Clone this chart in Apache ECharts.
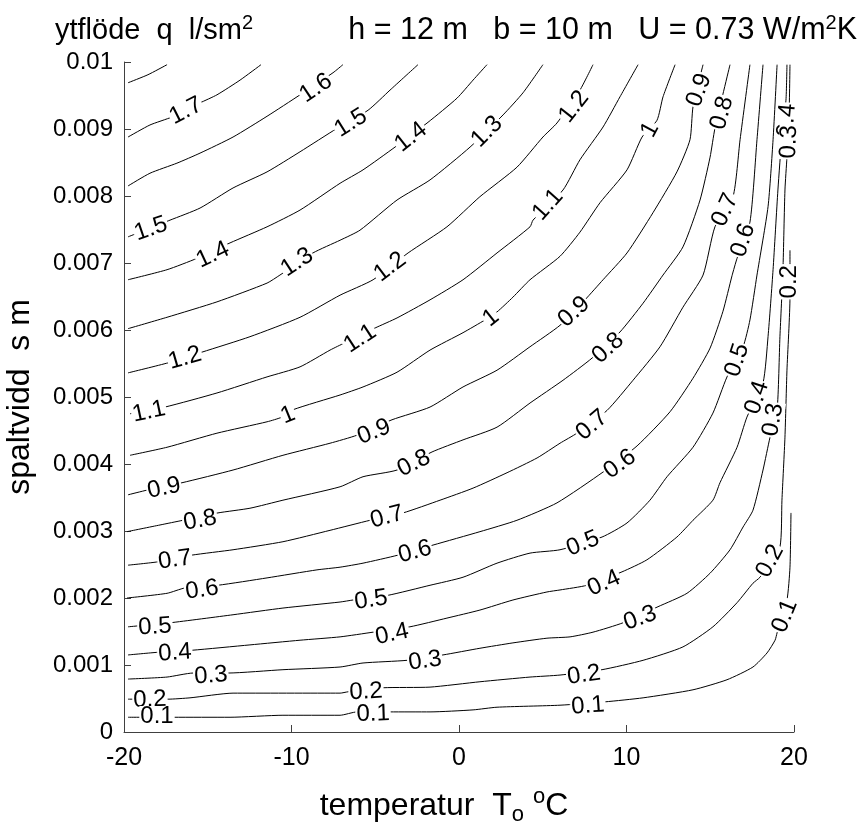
<!DOCTYPE html>
<html>
<head>
<meta charset="utf-8">
<title>ytflöde</title>
<script src="https://cdn.jsdelivr.net/npm/echarts@6/dist/echarts.min.js"></script>
<style>
html,body{margin:0;padding:0;background:#fff;}
#chart{width:868px;height:829px;}
</style>
</head>
<body>
<div id="chart"></div>
<script>
// konturnivåer, q l/sm2
var levels=['1.8','1.7','1.6','1.5','1.4','1.3','1.2','1.1','1','0.9','0.8','0.7','0.6','0.5','0.4','0.3','0.2','0.1'];

// konturlinjer: [temperatur T, spaltvidd s]
var c18=[[-19.76,0.00969],[-18.57,0.00981],[-17.43,0.00996]];
var c17=[[-19.76,0.00888],[-18.45,0.00906],[-17.13,0.00918],[-15.46,0.00939],[-14.45,0.00951],[-13.07,0.00973],[-11.82,0.00996]];
var c16=[[-19.76,0.00815],[-18.45,0.00834],[-16.84,0.00849],[-15.46,0.00864],[-13.49,0.00888],[-11.46,0.00919],[-9.49,0.00951],[-7.52,0.00984],[-6.93,0.00996]];
var c15=[[-19.76,0.00739],[-17.25,0.00764],[-15.46,0.00782],[-13.49,0.00812],[-11.46,0.00836],[-9.49,0.00866],[-7.28,0.00901],[-5.43,0.00928],[-4.12,0.00958],[-2.45,0.00996]];
var c14=[[-19.76,0.00675],[-17.43,0.0069],[-15.64,0.00707],[-13.67,0.0073],[-11.46,0.00754],[-9.49,0.00779],[-7.10,0.00819],[-5.73,0.00839],[-3.82,0.00873],[-1.85,0.0091],[-0.12,0.00946],[0.84,0.00973],[1.67,0.00996]];
var c13=[[-19.76,0.00602],[-17.43,0.00619],[-14.45,0.00642],[-11.46,0.0067],[-10.69,0.00682],[-8.72,0.00715],[-7.10,0.00734],[-5.91,0.00749],[-3.70,0.00794],[-1.73,0.00824],[0.66,0.00873],[2.63,0.00921],[3.82,0.00954],[5.01,0.00996]];
var c12=[[-19.76,0.00536],[-17.37,0.00551],[-15.34,0.00567],[-12.48,0.0059],[-9.49,0.00619],[-7.10,0.00652],[-5.13,0.00675],[-3.04,0.00715],[-0.72,0.00754],[1.25,0.00799],[3.46,0.00843],[5.01,0.00888],[5.85,0.00909],[7.22,0.00958],[8.0,0.00996]];
var c11=[[-19.64,0.00475],[-17.55,0.00485],[-14.45,0.00506],[-11.46,0.0053],[-9.49,0.00545],[-7.70,0.0057],[-6.81,0.00581],[-5.01,0.00603],[-3.70,0.00618],[-1.73,0.00645],[0.24,0.00675],[2.27,0.00715],[4.24,0.00754],[4.42,0.00764],[6.21,0.00809],[7.22,0.00854],[8.60,0.00903],[9.61,0.00948],[10.69,0.00996]];
var c10=[[-19.64,0.00413],[-17.43,0.00425],[-14.45,0.00446],[-11.46,0.00463],[-10.57,0.0047],[-9.91,0.00481],[-7.10,0.00503],[-5.73,0.00515],[-3.70,0.00537],[-1.73,0.0057],[0.24,0.00596],[1.55,0.00615],[2.27,0.00627],[3.22,0.00649],[4.24,0.00675],[6.03,0.0071],[7.22,0.00746],[8.42,0.0079],[10.03,0.00839],[10.93,0.00888],[11.82,0.00913],[12.18,0.00948],[12.90,0.00996]];
var c09=[[-19.76,0.00354],[-18.63,0.00361],[-16.54,0.00372],[-13.49,0.00391],[-10.51,0.00413],[-7.70,0.00431],[-6.09,0.00443],[-4.0,0.00466],[-1.73,0.00485],[0.24,0.00515],[2.27,0.0054],[4.24,0.00575],[6.03,0.00607],[7.52,0.00645],[8.60,0.00675],[10.03,0.00715],[11.58,0.00775],[13.01,0.00836],[13.79,0.00884],[13.97,0.00933],[14.57,0.00996]];
var c08=[[-19.82,0.00299],[-17.85,0.00309],[-16.48,0.00316],[-14.39,0.00327],[-12.48,0.00334],[-10.51,0.00346],[-7.10,0.00366],[-5.73,0.00381],[-3.70,0.00391],[-1.61,0.00418],[0.24,0.00436],[2.27,0.00455],[4.24,0.00491],[6.21,0.00525],[7.94,0.00558],[9.61,0.00597],[10.99,0.0064],[12.18,0.00682],[13.37,0.00724],[14.39,0.00794],[14.99,0.00858],[15.28,0.00901],[16.18,0.00996]];
var c07=[[-19.76,0.00249],[-17.97,0.00254],[-15.94,0.00264],[-13.49,0.00272],[-10.51,0.00284],[-7.70,0.00301],[-5.31,0.00316],[-3.34,0.00327],[-1.13,0.00346],[0.84,0.00364],[2.87,0.00387],[4.66,0.00409],[6.03,0.00431],[7.04,0.00446],[8.84,0.0048],[10.39,0.00525],[12.0,0.00575],[13.37,0.00634],[14.57,0.00682],[15.28,0.00754],[16.36,0.00799],[16.78,0.00884],[17.37,0.00996]];
var c06=[[-19.82,0.002],[-17.43,0.00207],[-16.36,0.00215],[-14.39,0.00219],[-11.46,0.0023],[-8.48,0.00242],[-7.10,0.00246],[-5.73,0.00252],[-3.64,0.00264],[-1.55,0.00279],[1.25,0.00299],[3.46,0.00316],[5.85,0.00342],[8.60,0.00388],[10.63,0.00427],[12.60,0.00478],[13.97,0.00528],[14.99,0.00573],[15.76,0.00628],[16.30,0.00681],[16.60,0.00707],[17.37,0.00761],[17.79,0.00884],[18.15,0.00996]];
var c05=[[-19.76,0.00157],[-17.25,0.00163],[-13.49,0.00175],[-10.51,0.00185],[-7.10,0.00194],[-6.33,0.00197],[-4.24,0.00204],[-1.73,0.00219],[0.24,0.00231],[2.27,0.00252],[4.24,0.00267],[6.03,0.00272],[8.54,0.00291],[10.03,0.00312],[11.40,0.00346],[12.42,0.00381],[13.97,0.00425],[15.16,0.00476],[16.0,0.0053],[16.96,0.00575],[17.37,0.00615],[17.79,0.00682],[18.45,0.00784],[18.75,0.00884],[18.99,0.00996]];
var c04=[[-19.76,0.00115],[-17.97,0.00119],[-15.94,0.00122],[-12.48,0.0013],[-9.49,0.00137],[-7.10,0.00142],[-5.13,0.00149],[-2.93,0.00157],[-0.72,0.0017],[1.25,0.00182],[3.22,0.00197],[5.25,0.00209],[6.03,0.00212],[7.64,0.00219],[9.73,0.00239],[11.22,0.00257],[13.01,0.00291],[13.97,0.00316],[15.16,0.00346],[15.58,0.00372],[16.60,0.00425],[17.19,0.0047],[18.15,0.00521],[18.45,0.0059],[18.75,0.0069],[19.04,0.00809],[19.28,0.0089],[19.52,0.00943],[19.58,0.00996]];
var c03=[[-19.76,0.00079],[-17.43,0.00082],[-15.88,0.00088],[-13.79,0.00088],[-10.51,0.00093],[-7.10,0.00097],[-5.73,0.00103],[-3.10,0.00107],[-0.96,0.00115],[1.25,0.00125],[3.22,0.00133],[5.25,0.0014],[6.63,0.00142],[8.0,0.00149],[9.79,0.00163],[11.88,0.00187],[13.61,0.00207],[14.99,0.00237],[16.18,0.00272],[16.96,0.00306],[17.55,0.00331],[18.15,0.00391],[18.57,0.0044],[18.99,0.0048],[19.16,0.0059],[19.34,0.0069],[19.46,0.00809],[19.58,0.00858],[19.70,0.00913],[19.76,0.00996]];
var c02=[[-19.76,0.00049],[-17.37,0.00049],[-16.06,0.00051],[-13.49,0.00058],[-7.10,0.00058],[-6.63,0.0006],[-4.54,0.00066],[-1.73,0.00067],[1.25,0.00075],[4.24,0.00082],[6.03,0.00085],[8.54,0.00093],[10.99,0.00107],[13.37,0.00127],[15.16,0.00157],[16.60,0.00193],[17.55,0.00222],[17.97,0.00231],[19.16,0.00276],[19.28,0.00346],[19.46,0.0044],[19.58,0.0054],[19.76,0.00649],[19.76,0.00719]];
var c01=[[-19.76,0.00022],[-17.07,0.00022],[-13.67,0.00022],[-10.51,0.00025],[-7.10,0.00025],[-6.09,0.0003],[-4.12,0.0003],[-1.73,0.0003],[0.84,0.00033],[2.27,0.00037],[6.03,0.0004],[8.72,0.00045],[10.99,0.00051],[13.97,0.00063],[16.0,0.00078],[17.55,0.00097],[18.39,0.00118],[18.87,0.00137],[18.99,0.00148],[19.58,0.00197],[19.76,0.00246],[19.82,0.00327]];
var contours=[c18,c17,c16,c15,c14,c13,c12,c11,c10,c09,c08,c07,c06,c05,c04,c03,c02,c01];

// etiketter på kurvorna (clabel)
var labelText=['1.7','1.6','1.5','1.5','1.4','1.4','1.3','1.3','1.2','1.2','1.2','1.1','1.1','1.1','1','1','1',
  '0.9','0.9','0.9','0.9','0.8','0.8','0.8','0.8','0.7','0.7','0.7','0.7','0.6','0.6','0.6','0.6',
  '0.5','0.5','0.5','0.5','0.4','0.4','0.4','0.4','0.4','0.3','0.3','0.3','0.3','0.3',
  '0.2','0.2','0.2','0.2','0.2','0.1','0.1','0.1','0.1'];
var labelT=[-16.30,-8.54,-18.39,-6.45,-14.69,-2.87,-9.67,1.67,-16.36,-4.12,6.87,-18.51,-5.91,5.31,-10.21,1.91,11.40,
  -17.61,-5.07,6.87,14.33,-15.46,-2.69,8.90,15.70,-16.96,-4.30,7.94,15.88,-15.34,-2.63,9.61,16.96,
  -18.15,-5.25,7.40,16.60,-16.96,-4.0,8.66,17.79,19.58,-14.81,-2.03,10.81,18.75,19.70,
  -18.45,-5.55,7.46,18.57,19.70,-18.03,-5.13,7.70,19.46];
var labelS=[0.00927,0.00961,0.00751,0.00909,0.00712,0.00888,0.00701,0.00896,0.00558,0.00694,0.00933,0.00478,0.00587,0.00787,0.00473,0.00618,0.00899,
  0.00364,0.00448,0.00627,0.00958,0.00316,0.00401,0.00573,0.00924,0.00257,0.00321,0.00458,0.00779,0.00212,0.00269,0.004,0.00734,
  0.00157,0.00197,0.00281,0.00555,0.00118,0.00146,0.00222,0.00499,0.00913,0.00084,0.00106,0.0017,0.00466,0.00881,
  0.00048,0.0006,0.00085,0.00255,0.00672,0.00024,0.00027,0.00039,0.00173];
var labelRot=[27,34,19,32,25,38,33,45,16,37,52,12,33,48,22,38,62,
  12,22,42,70,10,27,42,75,8,15,40,65,8,15,36,72,
  4,8,22,72,4,12,24,72,85,4,8,20,80,88,
  2,3,8,62,90,0,2,4,68];

var xTicks=[-20,-10,0,10,20];
var yTicks=[0,0.001,0.002,0.003,0.004,0.005,0.006,0.007,0.008,0.009,0.01];

var font='"Liberation Sans", Arial, Helvetica, sans-serif';
var myChart=echarts.init(document.getElementById('chart'));

var series=[];
for(var i=0;i<contours.length;i++){
    series.push({
        name:levels[i],
        type:'line',
        data:contours[i],
        symbol:'none',
        smooth:0.2,
        silent:true,
        z:2,
        lineStyle:{color:'#000',width:1}
    });
}
var labelData=[];
for(var j=0;j<labelText.length;j++){
    labelData.push({
        value:[labelT[j],labelS[j]],
        label:{formatter:labelText[j],rotate:labelRot[j]}
    });
}
series.push({
    type:'scatter',
    data:labelData,
    symbolSize:0,
    silent:true,
    z:5,
    itemStyle:{opacity:1},
    label:{
        show:true,
        position:'inside',
        color:'#000',
        fontSize:24,
        lineHeight:20,
        fontFamily:font,
        backgroundColor:'#fff',
        padding:[0,1]
    }
});

var option={
    backgroundColor:'#fff',
    animation:false,
    title:[
        {
            text:'ytflöde  q  l/sm{sup|2}',
            left:50,
            top:8,
            textStyle:{
                fontFamily:font,fontSize:29,fontWeight:'normal',color:'#000',
                rich:{sup:{fontFamily:font,fontSize:20,color:'#000',padding:[0,0,16,0]}}
            }
        },
        {
            text:'h = 12 m   b = 10 m   U = 0.73 W/m{sup|2}K',
            right:6,
            top:8,
            textStyle:{
                fontFamily:font,fontSize:30.5,fontWeight:'normal',color:'#000',
                rich:{sup:{fontFamily:font,fontSize:20,color:'#000',padding:[0,0,16,0]}}
            }
        }
    ],
    grid:{left:124,top:62,width:670,height:670,outerBoundsMode:'none',containLabel:false},
    xAxis:{
        type:'value',
        min:-20,
        max:20,
        interval:10,
        name:'temperatur  T{sub|o} {sup|o}C',
        nameLocation:'middle',
        nameGap:54,
        nameTextStyle:{
            fontFamily:font,fontSize:32,color:'#000',
            padding:[0,30,0,0],
            rich:{
                sub:{fontFamily:font,fontSize:22,color:'#000',padding:[18,0,0,0]},
                sup:{fontFamily:font,fontSize:22,color:'#000',padding:[0,0,18,0]}
            }
        },
        splitLine:{show:false},
        axisLine:{onZero:false,lineStyle:{color:'#404040',width:1}},
        axisTick:{inside:true,length:7,lineStyle:{color:'#404040'}},
        axisLabel:{
            fontFamily:font,fontSize:25,color:'#000',margin:14,
            formatter:function(v){return xTicks.indexOf(v)>=0?String(v):'';}
        }
    },
    yAxis:{
        type:'value',
        min:0,
        max:0.01,
        interval:0.001,
        name:'spaltvidd  s m',
        nameLocation:'middle',
        nameGap:88,
        nameTextStyle:{fontFamily:font,fontSize:32,color:'#000'},
        splitLine:{show:false},
        axisLine:{show:true,onZero:false,lineStyle:{color:'#404040',width:1}},
        axisTick:{show:true,inside:true,length:7,lineStyle:{color:'#404040'}},
        axisLabel:{
            fontFamily:font,fontSize:24,color:'#000',margin:11,
            formatter:function(v){
                for(var k=0;k<yTicks.length;k++){
                    if(Math.abs(yTicks[k]-v)<1e-9){return k==0?'0':String(yTicks[k]);}
                }
                return '';
            }
        }
    },
    series:series
};
myChart.setOption(option);
</script>
</body>
</html>
